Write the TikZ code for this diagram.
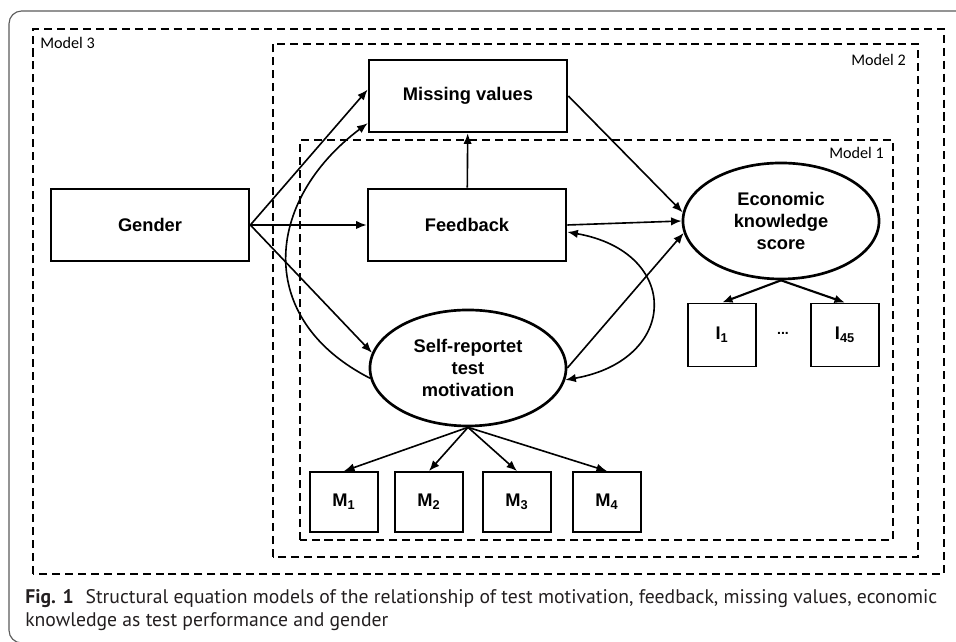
\documentclass[tikz,border=0pt]{standalone}
\usepackage{fontspec}
\setmainfont{Liberation Sans}
\newfontfamily\modelfont{Carlito}
\newfontfamily\capfont{PT Sans}
\usetikzlibrary{shapes.geometric,arrows.meta}
\definecolor{framecol}{RGB}{90,90,90}
\definecolor{captext}{RGB}{35,31,32}
\tikzset{
  varbox/.style={draw,line width=1.9pt,minimum width=4.95cm,minimum height=1.8cm,
    font=\fontsize{13}{15.4}\selectfont\bfseries},
  latent/.style={ellipse,draw,line width=1.9pt,minimum width=4.9cm,minimum height=2.9cm,
    inner sep=0pt,align=center,font=\fontsize{13}{15.4}\selectfont\bfseries},
  indic/.style={draw,line width=1.3pt,minimum width=1.7cm,minimum height=1.5cm,
    font=\fontsize{13}{15.4}\selectfont\bfseries},
  modelframe/.style={line width=1.3pt,dash pattern=on 5.7pt off 3.5pt},
  modellabel/.style={inner sep=0pt,font=\modelfont\fontsize{11.5}{13}\selectfont},
  arr/.style={-{Latex[length=7.5pt,width=6pt]},line width=1.15pt},
  dblarr/.style={{Latex[length=7.5pt,width=6pt]}-{Latex[length=7.5pt,width=6pt]},line width=1.15pt},
  capline/.style={inner sep=0pt,anchor=base west,text=captext,font=\capfont\fontsize{14}{18}\selectfont}
}
\begin{document}
\begin{tikzpicture}[x=0.025cm,y=0.025cm]
  \useasboundingbox (0,0) rectangle (956,642);
  \begin{scope}
    \clip (0,0) rectangle (956,642);
    \draw[framecol,line width=0.8pt,rounded corners=9pt] (9,631) rectangle (975,-1);
  \end{scope}
  % the three nested models
  \draw[modelframe] (33,68) rectangle (944,613);
  \draw[modelframe] (273,85) rectangle (918,598);
  \draw[modelframe] (300,102) rectangle (893,502);
  \node[modellabel,anchor=west] (mod3) at (40,599) {Model 3};
  \node[modellabel,anchor=east] (mod2) at (906,582) {Model 2};
  \node[modellabel,anchor=east] (mod1) at (884,489) {Model 1};
  % variables
  \node[varbox] (gender) at (150,417) {Gender};
  \node[varbox] (miss) at (468,546) {Missing values};
  \node[varbox] (fb) at (467,417) {Feedback};
  \node[latent] (econ) at (781,421) {Economic\\knowledge\\score};
  \node[latent] (self) at (468,274) {Self-reportet\\test\\motivation};
  \foreach \i/\x in {1/344,2/429,3/517,4/607}
    \node[indic] (m\i) at (\x,140) {M\textsubscript{\i}};
  \node[indic,minimum height=1.575cm] (i1) at (722,307) {I\textsubscript{1}};
  \node[indic,minimum height=1.575cm] (i45) at (845,307) {I\textsubscript{45}};
  \node[font=\bfseries] (dots) at (783,309) {...};
  % paths
  \draw[arr] (gender.east) -- ([yshift=0.16cm]miss.west);
  \draw[arr] (gender.east) -- (fb.west);
  \draw[arr] (gender.east) -- (self.171);
  \draw[arr] (self.186) to[out=153,in=217,looseness=1.3] ([yshift=-0.68cm]miss.west);
  \draw[arr] (fb) -- (miss);
  \draw[arr] (miss.east) -- (econ.175);
  \draw[arr] (fb.east) -- (econ.west);
  \draw[arr] (self.east) -- (econ.187);
  \draw[dblarr] ([yshift=-0.175cm]fb.east) to[out=-10,in=10,looseness=2] (self.353);
  \draw[arr,line width=1.5pt] (econ.south) -- (i1.north);
  \draw[arr,line width=1.5pt] (econ.south) -- (i45.north);
  \foreach \i in {1,...,4} \draw[arr] (self.south) -- (m\i.north);
  % caption
  \node[capline] (cap1) at (25,38) {\textbf{Fig. 1}\hspace{0.6em}Structural equation models of the relationship of test motivation, feedback, missing values, economic};
  \node[capline] (cap2) at (25,15) {knowledge as test performance and gender};
\end{tikzpicture}
\end{document}
